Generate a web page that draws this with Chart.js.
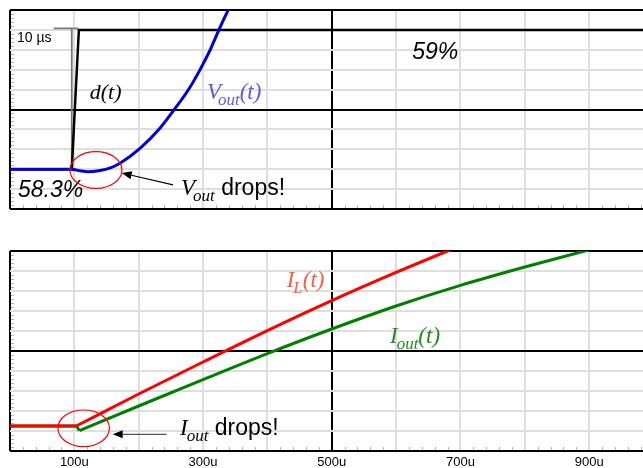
<!DOCTYPE html>
<html>
<head>
<meta charset="utf-8">
<script src="https://cdn.jsdelivr.net/npm/chart.js@4.4.1/dist/chart.umd.min.js"></script>
<style>
  html, body { margin: 0; padding: 0; background: #fff; overflow: hidden; width: 643px; height: 468px; }
  canvas { position: absolute; left: 0; }
  #top { top: 0; }
  #bottom { top: 241px; }
</style>
</head>
<body>
<canvas id="top" width="660" height="215"></canvas>
<canvas id="bottom" width="660" height="227"></canvas>
<script>
// Time axis (µs) and labelled ticks
const timeLabels = [100, 300, 500, 700, 900];

// Upper panel: duty cycle step d(t)
const dutyT = [0, 96, 107, 1000];
const dutyV = [2.0, 2.0, 9.0, 9.0];

// Upper panel: 10 µs step marker (horizontal bar, gap, vertical drop)
const markT = [68, 106, null, 96, 96];
const markV = [9.08, 9.08, null, 9.08, 2.0];

// Upper panel: output voltage Vout(t)
const voutT = [0, 96, 109, 121, 140, 155, 171, 202, 233, 256, 277, 295, 311, 325, 339, 353];
const voutV = [2.0, 2.0, 1.92, 1.87, 1.93, 2.05, 2.30, 3.05, 4.06, 5.03, 5.98, 6.98, 7.99, 9.03, 10.0, 10.9];

// Lower panel: inductor current IL(t); ramp starts at index ilKnee
const ilT = [0, 103, 200, 300, 400, 500, 600, 680, 700];
const ilV = [1.25, 1.25, 2.85, 4.45, 6.02, 7.52, 8.93, 10.0, 10.26];
const ilKnee = 1;

// Lower panel: output current Iout(t); ramp starts at index ioutKnee
const ioutT = [0, 103, 108, 200, 300, 400, 500, 600, 700, 800, 893, 910];
const ioutV = [1.25, 1.25, 1.02, 2.25, 3.57, 4.87, 6.1, 7.25, 8.28, 9.2, 10.0, 10.14];
const ioutKnee = 2;

const SERIF = '"Liberation Serif", "Times New Roman", serif';
const SANS = '"Liberation Sans", Arial, sans-serif';
Chart.defaults.font.family = SANS;

function pts(ts, vs, from = 0, to = ts.length) {
  const out = [];
  for (let i = from; i < to; i++) out.push({ x: ts[i], y: vs[i] });
  return out;
}

const isMajorX = v => v === 0 || v === 500;
const isMajorY = v => v === 0 || v === 5 || v === 10;

function scalesFor(showLabels) {
  return {
    x: {
      type: 'linear', min: 0, max: 1000,
      afterFit: s => { s.height = showLabels ? 17 : 0; },
      grid: {
        drawTicks: false,
        color: c => isMajorX(c.tick.value) ? '#000' : '#dedede',
        lineWidth: 2
      },
      border: { display: false },
      ticks: {
        display: showLabels, stepSize: 100, autoSkip: false, maxRotation: 0, padding: 4,
        color: '#000', font: { size: 13, family: SANS },
        callback: v => timeLabels.includes(v) ? v + 'u' : ''
      }
    },
    y: {
      type: 'linear', min: 0, max: 10,
      afterFit: s => { s.width = 0; },
      grid: {
        drawTicks: false,
        color: c => isMajorY(c.tick.value) ? '#000' : '#dedede',
        lineWidth: 2
      },
      border: { display: false },
      ticks: { display: false, stepSize: 1 }
    }
  };
}

// small inner tick marks along the left and bottom edges
const minorTicks = {
  id: 'minorTicks',
  beforeDatasetsDraw(chart) {
    const { ctx, chartArea: a, scales: { x, y } } = chart;
    ctx.save();
    ctx.strokeStyle = '#b4b4b4';
    ctx.lineWidth = 1;
    ctx.beginPath();
    for (let t = 20; t < 1000; t += 20) {
      if (t % 100 === 0) continue;
      const p = Math.round(x.getPixelForValue(t)) + 0.5;
      ctx.moveTo(p, a.bottom - 1);
      ctx.lineTo(p, a.bottom - 4);
    }
    for (let k = 1; k < 50; k++) {
      if (k % 5 === 0) continue;
      const p = Math.round(y.getPixelForValue(k * 0.2)) + 0.5;
      ctx.moveTo(a.left + 1, p);
      ctx.lineTo(a.left + 4, p);
    }
    ctx.stroke();
    ctx.restore();
  }
};

// labels, callout ellipses and arrows placed in data coordinates
const notes = {
  id: 'notes',
  afterDatasetsDraw(chart, args, opts) {
    const { ctx, scales: { x, y } } = chart;
    ctx.save();
    for (const it of opts.items || []) {
      if (it.type === 'text') {
        let cx = x.getPixelForValue(it.at[0]);
        const by = y.getPixelForValue(it.at[1]);
        ctx.textBaseline = 'alphabetic';
        ctx.textAlign = 'left';
        for (const r of it.runs) {
          ctx.font = r.font;
          ctx.fillStyle = r.color || it.color;
          ctx.fillText(r.text, cx, by + (r.dy || 0));
          cx += ctx.measureText(r.text).width + (r.gap || 0);
        }
      } else if (it.type === 'ellipse') {
        const cx = x.getPixelForValue(it.at[0]);
        const cy = y.getPixelForValue(it.at[1]);
        const rx = Math.abs(x.getPixelForValue(it.at[0] + it.r[0]) - cx);
        const ry = Math.abs(y.getPixelForValue(it.at[1] + it.r[1]) - cy);
        ctx.beginPath();
        ctx.ellipse(cx, cy, rx, ry, 0, 0, Math.PI * 2);
        ctx.strokeStyle = it.color;
        ctx.lineWidth = 1.2;
        ctx.stroke();
      } else if (it.type === 'arrow') {
        const x0 = x.getPixelForValue(it.from[0]), y0 = y.getPixelForValue(it.from[1]);
        const x1 = x.getPixelForValue(it.to[0]), y1 = y.getPixelForValue(it.to[1]);
        const ang = Math.atan2(y1 - y0, x1 - x0);
        const L = 10, W = 4;
        const bx = x1 - L * Math.cos(ang), byy = y1 - L * Math.sin(ang);
        ctx.strokeStyle = it.color;
        ctx.lineWidth = 1.2;
        ctx.beginPath();
        ctx.moveTo(x0, y0);
        ctx.lineTo(bx, byy);
        ctx.stroke();
        ctx.fillStyle = '#000';
        ctx.beginPath();
        ctx.moveTo(x1, y1);
        ctx.lineTo(bx + W * Math.sin(ang), byy - W * Math.cos(ang));
        ctx.lineTo(bx - W * Math.sin(ang), byy + W * Math.cos(ang));
        ctx.closePath();
        ctx.fill();
      }
    }
    ctx.restore();
  }
};

const MAIN = 'italic 23px ' + SERIF;
const SUB = 'italic 17px ' + SERIF;
const BIG = '23px ' + SANS;
const BIG_IT = 'italic 23px ' + SANS;

const common = {
  responsive: false,
  animation: false,
  devicePixelRatio: 1,
  events: [],
  elements: { point: { radius: 0 } }
};

new Chart(document.getElementById('top'), {
  type: 'line',
  data: {
    datasets: [
      { label: 'Vout(t)', data: pts(voutT, voutV), borderColor: '#0000d8', borderWidth: 3,
        cubicInterpolationMode: 'monotone', clip: 0 },
      { label: 'd(t)', data: pts(dutyT, dutyV), borderColor: '#000', borderWidth: 2.5, tension: 0, clip: 0 },
      { label: '10 µs', data: pts(markT, markV), borderColor: '#7a7a7a', borderWidth: 1.8, tension: 0,
        spanGaps: false, clip: 0 }
    ]
  },
  options: {
    ...common,
    layout: { padding: { left: 10, top: 10, right: 6.5, bottom: 6 } },
    scales: scalesFor(false),
    plugins: {
      legend: { display: false }, tooltip: { enabled: false },
      notes: {
        items: [
          { type: 'text', at: [11, 8.39], color: '#000', runs: [{ text: '10 µs', font: '14px ' + SANS }] },
          { type: 'text', at: [124, 5.53], color: '#000', runs: [{ text: 'd(t)', font: 'italic 22px ' + SERIF }] },
          { type: 'text', at: [306, 5.53], color: '#5c5ce6', runs: [
            { text: 'V', font: MAIN, gap: -3 },
            { text: 'out', font: SUB, dy: 6 },
            { text: '(t)', font: MAIN }
          ] },
          { type: 'text', at: [625, 7.54], color: '#000', runs: [{ text: '59%', font: BIG_IT }] },
          { type: 'text', at: [12.4, 0.6], color: '#000', runs: [{ text: '58.3%', font: BIG_IT }] },
          { type: 'text', at: [265.7, 0.7], color: '#000', runs: [
            { text: 'V', font: MAIN, gap: -2 },
            { text: 'out', font: SUB, dy: 6 },
            { text: ' drops!', font: BIG }
          ] },
          { type: 'ellipse', at: [133.6, 1.96], r: [40.4, 0.92], color: '#ff0000' },
          { type: 'arrow', from: [253.3, 1.21], to: [173.6, 1.81], color: '#000' }
        ]
      }
    }
  },
  plugins: [minorTicks, notes]
});

new Chart(document.getElementById('bottom'), {
  type: 'line',
  data: {
    datasets: [
      { label: 'IL(t)', data: pts(ilT, ilV, 0, ilKnee + 1), borderColor: '#ff0000', borderWidth: 3,
        tension: 0, clip: 0 },
      { label: 'IL(t) ramp', data: pts(ilT, ilV, ilKnee), borderColor: '#ff0000', borderWidth: 3,
        cubicInterpolationMode: 'monotone', clip: 0 },
      { label: 'Iout(t)', data: pts(ioutT, ioutV, 0, ioutKnee + 1), borderColor: '#008000', borderWidth: 3,
        tension: 0, clip: 0 },
      { label: 'Iout(t) ramp', data: pts(ioutT, ioutV, ioutKnee), borderColor: '#008000', borderWidth: 3,
        cubicInterpolationMode: 'monotone', clip: 0 }
    ]
  },
  options: {
    ...common,
    layout: { padding: { left: 10, top: 10, right: 6.5, bottom: 0 } },
    scales: scalesFor(true),
    plugins: {
      legend: { display: false }, tooltip: { enabled: false },
      notes: {
        items: [
          { type: 'text', at: [430, 8.22], color: '#ff5a46', runs: [
            { text: 'I', font: MAIN, gap: -1 },
            { text: 'L', font: SUB, dy: 6 },
            { text: '(t)', font: MAIN }
          ] },
          { type: 'text', at: [590.5, 5.39], color: '#1f8f1f', runs: [
            { text: 'I', font: MAIN, gap: -1 },
            { text: 'out', font: SUB, dy: 6 },
            { text: '(t)', font: MAIN }
          ] },
          { type: 'text', at: [264.2, 0.8], color: '#000', runs: [
            { text: 'I', font: MAIN, gap: -1 },
            { text: 'out', font: SUB, dy: 6 },
            { text: ' drops!', font: BIG }
          ] },
          { type: 'ellipse', at: [114.5, 1.135], r: [40, 0.915], color: '#ff0000' },
          { type: 'arrow', from: [243.5, 0.835], to: [159.6, 0.835], color: '#555' }
        ]
      }
    }
  },
  plugins: [minorTicks, notes]
});
</script>
</body>
</html>
